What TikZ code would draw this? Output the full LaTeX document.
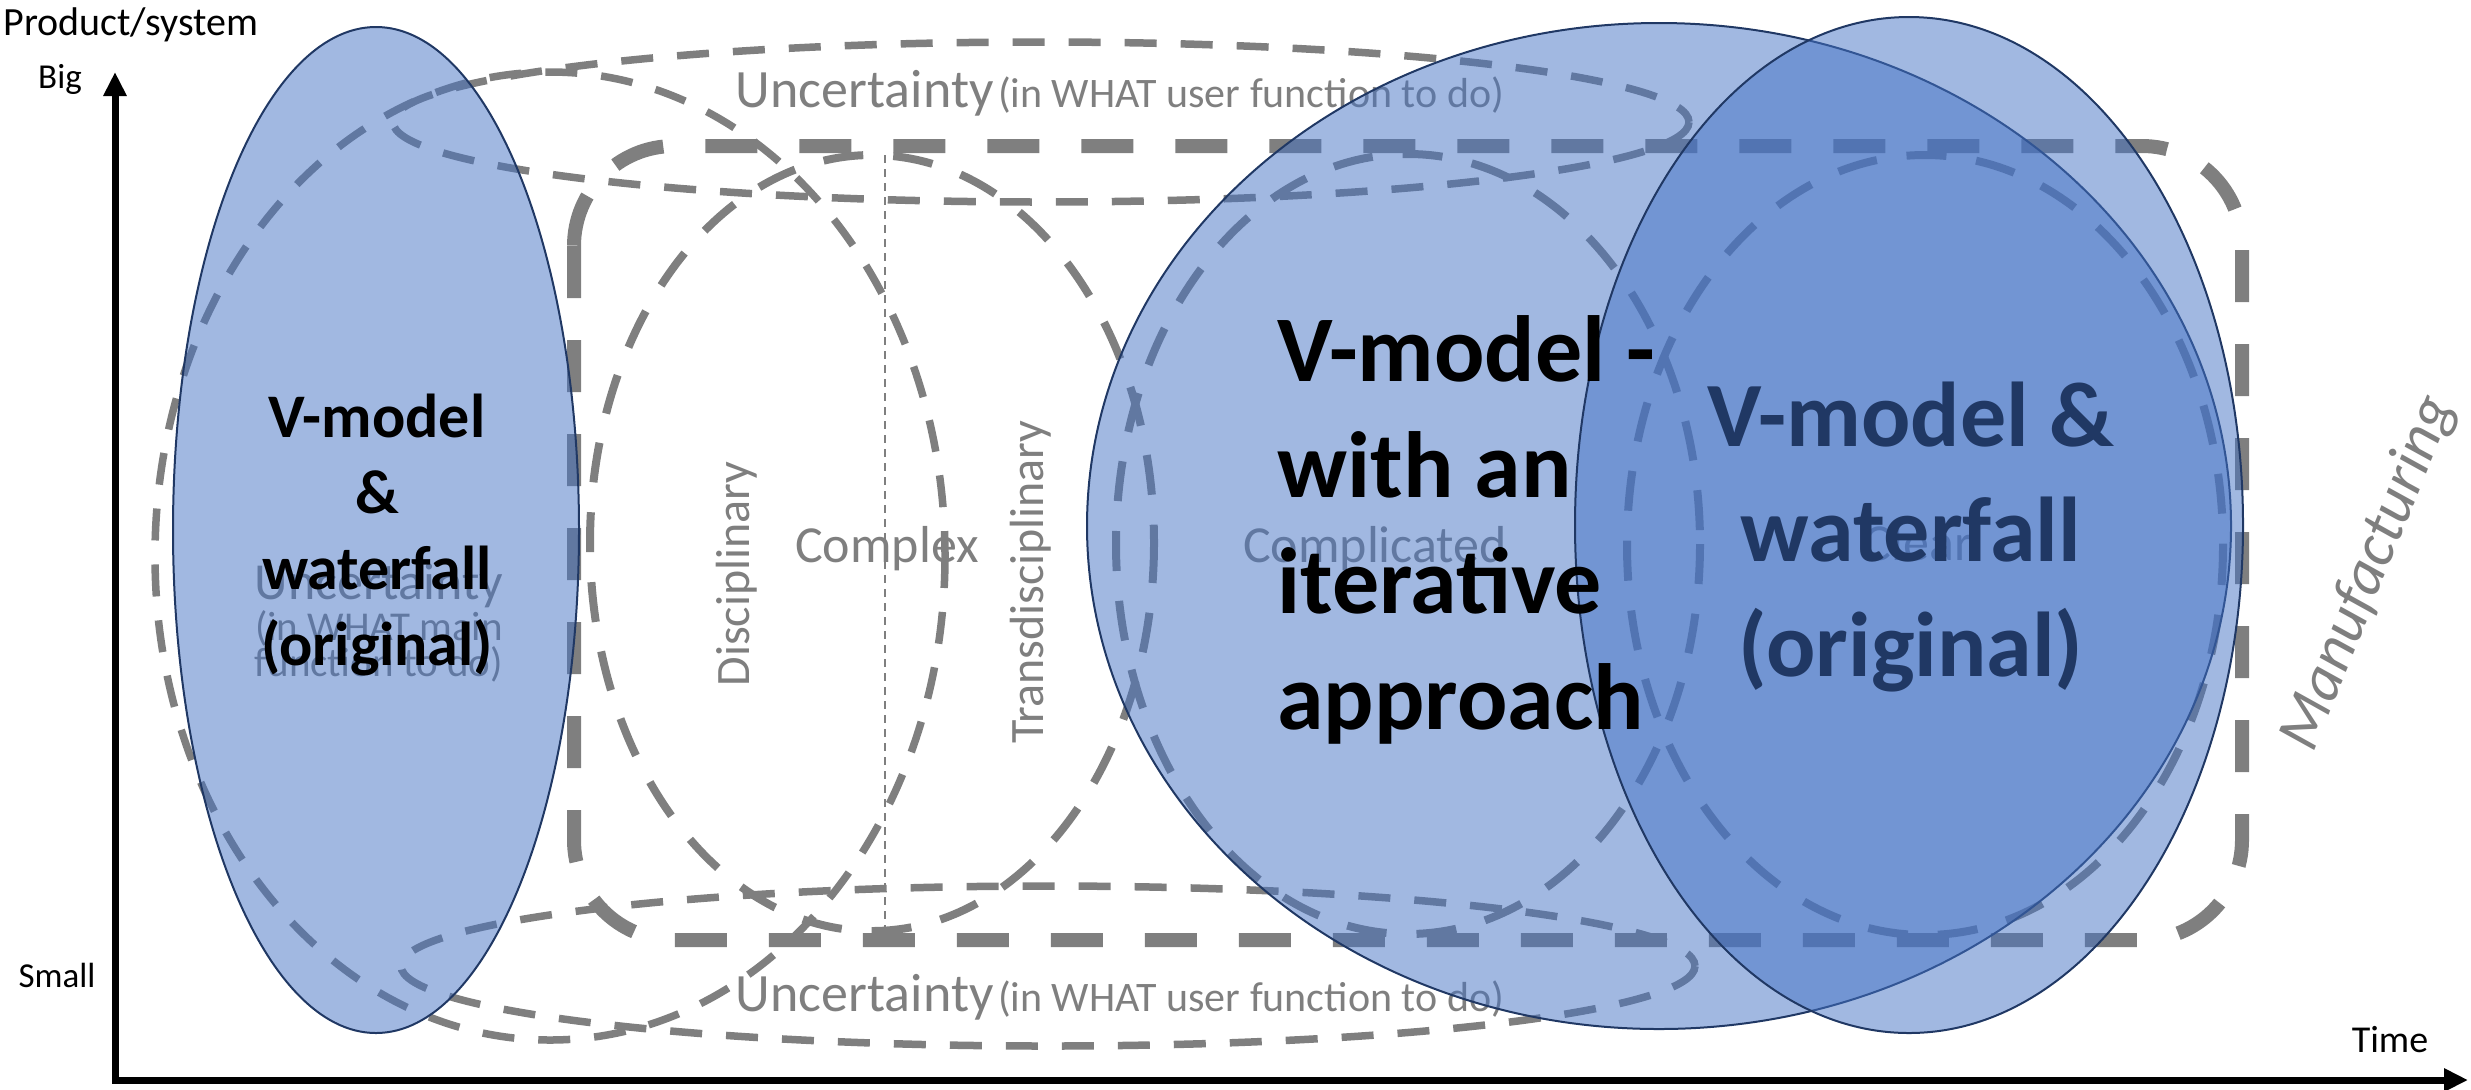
\documentclass[tikz,border=0pt]{standalone}
\usepackage{fontspec}
\setmainfont{Carlito}
\usetikzlibrary{arrows.meta}
\definecolor{linegray}{HTML}{7F7F7F}
\definecolor{vfill}{HTML}{4472C4}
\definecolor{vline}{HTML}{203864}
\newcommand{\fs}[2]{\fontsize{#1}{#2}\selectfont}

\begin{document}
\begin{tikzpicture}[x=0.5pt,y=-0.5pt,
	region/.style={draw=linegray,line width=3.75pt,dash pattern=on 16pt off 12pt},
	zone/.style={draw=linegray,line width=4pt,dash pattern=on 20pt off 15pt},
	manuf/.style={draw=linegray,line width=7pt,dash pattern=on 26pt off 21pt,rounded corners=50pt},
	divider/.style={draw=linegray,line width=1pt,dash pattern=on 4pt off 3pt},
	vmodel/.style={fill=vfill,fill opacity=0.5,draw=vline,line width=1pt}]
	\useasboundingbox (0,0) rectangle (2471,1089);
	% axes
	\coordinate (orig) at (115,1080);
	\coordinate (ytop) at (115,72);
	\coordinate (xend) at (2468,1080);
	\draw[line width=3.5pt,{Triangle[length=12pt,width=11pt]}-{Triangle[length=12pt,width=11pt]}] (ytop) -- (orig) -- (xend);
	\begin{scope}\tikzset{every node/.style={inner sep=0pt}}
	\node[anchor=base west,font=\fs{20}{24}] (prod) at (3,35) {Product/system};
	\node[anchor=base,font=\fs{17.5}{21}] (big) at (60,88) {Big};
	\node[anchor=base,font=\fs{17.5}{21}] (small) at (57,987) {Small};
	\node[anchor=base,font=\fs{19}{23}] (time) at (2390,1052) {Time};
	\end{scope}
	% dashed regions
	\draw[region] (550,556) ellipse [x radius=395, y radius=484];
	\draw[region] (1041,122) ellipse [x radius=648, y radius=80];
	\draw[region] (1048,966) ellipse [x radius=647, y radius=80];
	\draw[zone] (872,543) ellipse [x radius=282, y radius=388];
	\draw[zone] (1408,544) ellipse [x radius=292, y radius=390];
	\draw[zone] (1925,545) ellipse [x radius=298, y radius=390];
	\draw[manuf] (574,146) rectangle (2242,940);
	\coordinate (cxtop) at (885,155);
	\coordinate (cxbot) at (885,932);
	\draw[divider] (cxtop) -- (cxbot);
	\begin{scope}\tikzset{every node/.style={text=linegray,inner sep=0pt}}
	\node[align=center,font=\fs{20.5}{18}] (umain) at (379,623) {{\fs{26}{18}Uncertainty}\\(in WHAT main\\function to do)};
	\node[anchor=base] (uuser) at (1120,107) {{\fs{27}{32}Uncertainty} {\fs{21}{25}(in WHAT user function to do)}};
	\node[anchor=base] (uuserlow) at (1120,1011) {{\fs{27}{32}Uncertainty} {\fs{21}{25}(in WHAT user function to do)}};
	\node[anchor=base,font=\fs{26}{31}] (complex) at (887,562) {Complex};
	\node[anchor=base,font=\fs{26}{31}] (complicated) at (1375,562) {Complicated};
	\node[anchor=base,font=\fs{26}{31}] (clear) at (1918,560) {Clear};
	\node[rotate=90,font=\fs{24}{29}] (disc) at (737,574) {Disciplinary};
	\node[rotate=90,font=\fs{24}{29}] (trans) at (1031,582) {Transdisciplinary};
	\node[rotate=68,font=\fs{31}{37}\itshape] (manu) at (2369,573) {Manufacturing};
	\end{scope}
	% V-model areas
	\path[vmodel] (376,530) ellipse [x radius=203, y radius=503];
	\path[vmodel] (1659,526) ellipse [x radius=572, y radius=503];
	\path[vmodel] (1909,525) ellipse [x radius=334, y radius=508];
	\begin{scope}\tikzset{every node/.style={inner sep=0pt,font=\bfseries}}
	\node[align=center,font=\fs{31}{38}\bfseries] (vorig) at (377,535) {V-model\\\&\\waterfall\\(original)};
	\node[anchor=west,align=left,font=\fs{47}{58}\bfseries] (viter) at (1277,530) {V-model -\\with an\\iterative\\approach};
	\node[align=center,font=\fs{46}{57.5}\bfseries,text=vline] (vorigr) at (1911,537) {V-model \&\\waterfall\\(original)};
	\end{scope}
\end{tikzpicture}
\end{document}
